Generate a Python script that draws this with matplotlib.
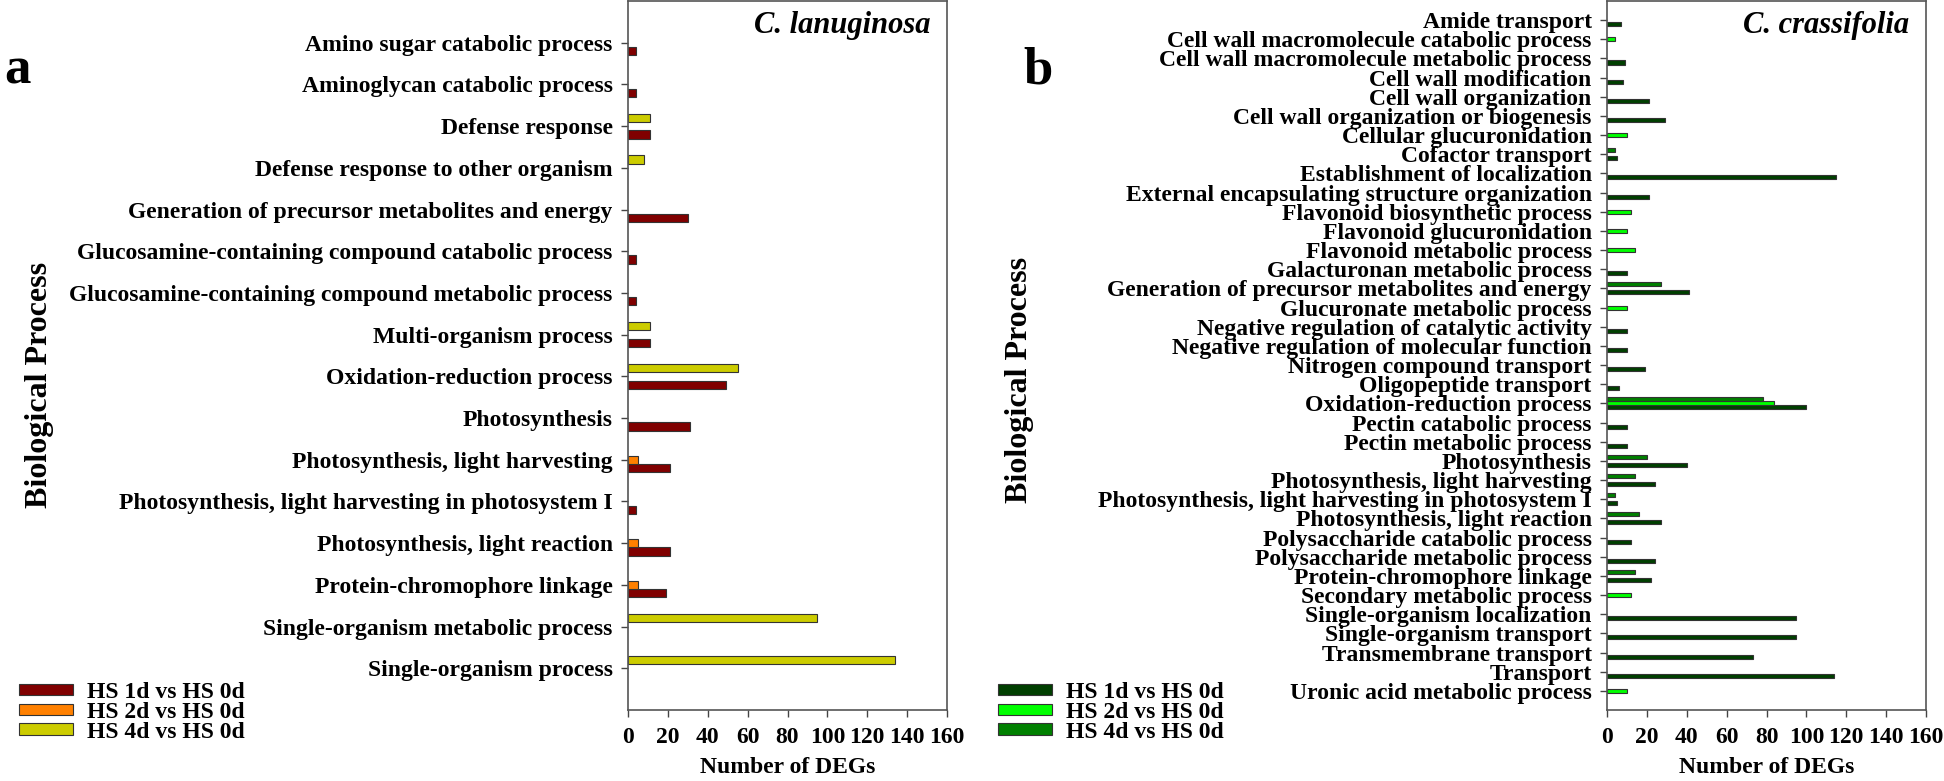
import matplotlib
matplotlib.use('Agg')
import matplotlib.pyplot as plt
import numpy as np
from matplotlib.patches import Patch

plt.rcParams['font.family'] = 'Liberation Serif'
plt.rcParams['font.weight'] = 'bold'
plt.rcParams['axes.labelweight'] = 'bold'

# panel a: C. lanuginosa
cats_a = ['Amino sugar catabolic process', 'Aminoglycan catabolic process', 'Defense response',
          'Defense response to other organism', 'Generation of precursor metabolites and energy',
          'Glucosamine-containing compound catabolic process',
          'Glucosamine-containing compound metabolic process', 'Multi-organism process',
          'Oxidation-reduction process', 'Photosynthesis', 'Photosynthesis, light harvesting',
          'Photosynthesis, light harvesting in photosystem I', 'Photosynthesis, light reaction',
          'Protein-chromophore linkage', 'Single-organism metabolic process',
          'Single-organism process']
a_1d = [4, 4, 11, 0, 30, 4, 4, 11, 49, 31, 21, 4, 21, 19, 0, 0]
a_2d = [0, 0, 0, 0, 0, 0, 0, 0, 0, 0, 5, 0, 5, 5, 0, 0]
a_4d = [0, 0, 11, 8, 0, 0, 0, 11, 55, 0, 0, 0, 0, 0, 95, 134]

# panel b: C. crassifolia
cats_b = ['Amide transport', 'Cell wall macromolecule catabolic process',
          'Cell wall macromolecule metabolic process', 'Cell wall modification',
          'Cell wall organization', 'Cell wall organization or biogenesis',
          'Cellular glucuronidation', 'Cofactor transport', 'Establishment of localization',
          'External encapsulating structure organization', 'Flavonoid biosynthetic process',
          'Flavonoid glucuronidation', 'Flavonoid metabolic process',
          'Galacturonan metabolic process', 'Generation of precursor metabolites and energy',
          'Glucuronate metabolic process', 'Negative regulation of catalytic activity',
          'Negative regulation of molecular function', 'Nitrogen compound transport',
          'Oligopeptide transport', 'Oxidation-reduction process', 'Pectin catabolic process',
          'Pectin metabolic process', 'Photosynthesis', 'Photosynthesis, light harvesting',
          'Photosynthesis, light harvesting in photosystem I', 'Photosynthesis, light reaction',
          'Polysaccharide catabolic process', 'Polysaccharide metabolic process',
          'Protein-chromophore linkage', 'Secondary metabolic process',
          'Single-organism localization', 'Single-organism transport',
          'Transmembrane transport', 'Transport', 'Uronic acid metabolic process']
b_1d = [7, 0, 9, 8, 21, 29, 0, 5, 115, 21, 0, 0, 0, 10, 41, 0, 10, 10, 19, 6,
        100, 10, 10, 40, 24, 5, 27, 12, 24, 22, 0, 95, 95, 73, 114, 0]
b_2d = [0, 4, 0, 0, 0, 0, 10, 0, 0, 0, 12, 10, 14, 0, 0, 10, 0, 0, 0, 0,
        84, 0, 0, 0, 0, 0, 0, 0, 0, 0, 12, 0, 0, 0, 0, 10]
b_4d = [0, 0, 0, 0, 0, 0, 0, 4, 0, 0, 0, 0, 0, 0, 27, 0, 0, 0, 0, 0,
        78, 0, 0, 20, 14, 4, 16, 0, 0, 14, 0, 0, 0, 0, 0, 0]

series = ['HS 1d vs HS 0d', 'HS 2d vs HS 0d', 'HS 4d vs HS 0d']
colors_a = ['#800000', '#ff8000', '#cccc00']
colors_b = ['#003f00', '#00ff00', '#008000']
xticks = [0, 20, 40, 60, 80, 100, 120, 140, 160]

fig = plt.figure(figsize=(19.44, 7.81), dpi=100)
ax_a = fig.add_axes([628 / 1944, 71 / 781, 319 / 1944, 709 / 781])
ax_b = fig.add_axes([1607 / 1944, 71 / 781, 319 / 1944, 709 / 781])


def draw(ax, cats, vals, colors, w, title):
    n = len(cats)
    y = np.arange(n)
    offsets = [w, 0, -w]  # 1d lowest, 4d on top
    for v, c, off in zip(vals, colors, offsets):
        v = np.array(v)
        m = v > 0
        ax.barh(y[m] + off, v[m], height=w, color=c, edgecolor='#333333', linewidth=0.8)
    ax.set_ylim(n, -1)
    ax.set_xlim(0, 160)
    ax.set_yticks(y)
    ax.set_yticklabels(cats, fontsize=17)
    ax.set_xticks(xticks)
    ax.set_xticklabels([str(t) for t in xticks], fontsize=17)
    ax.tick_params(axis='y', direction='out', length=5, width=1, pad=6, color='#444444')
    ax.tick_params(axis='x', direction='out', length=5, width=1, pad=7, color='#444444')
    for s in ax.spines.values():
        s.set_color('#555555')
        s.set_linewidth(1.2)
    ax.set_xlabel('Number of DEGs', fontsize=17, fontweight='bold', labelpad=7)
    ax.text(0.948, 0.955, title, transform=ax.transAxes, ha='right', va='baseline',
            fontsize=22, style='italic', fontweight='bold')


draw(ax_a, cats_a, [a_1d, a_2d, a_4d], colors_a, 0.2, 'C. lanuginosa')
draw(ax_b, cats_b, [b_1d, b_2d, b_4d], colors_b, 0.21, 'C. crassifolia')

fig.text(4 / 1944, 1 - 83 / 781, 'a', fontsize=38, fontweight='bold', va='baseline')
fig.text(1023 / 1944, 1 - 83 / 781, 'b', fontsize=38, fontweight='bold', va='baseline')
fig.text(40 / 1944, 1 - 385 / 781, 'Biological Process', rotation=90, fontsize=23,
         fontweight='bold', ha='center', va='center')
fig.text(1019 / 1944, 1 - 380 / 781, 'Biological Process', rotation=90, fontsize=23,
         fontweight='bold', ha='center', va='center')

for colors, x0 in [(colors_a, 19), (colors_b, 998)]:
    handles = [Patch(facecolor=c, edgecolor='#333333', linewidth=0.8) for c in colors]
    fig.legend(handles, series, loc='upper left', bbox_to_anchor=(x0 / 1944, 1 - 682 / 781),
               frameon=False, fontsize=17, handlelength=2.3, handleheight=0.38,
               handletextpad=0.6, labelspacing=-0.05, borderpad=0, borderaxespad=0)

fig.savefig('out.png', dpi=100)
